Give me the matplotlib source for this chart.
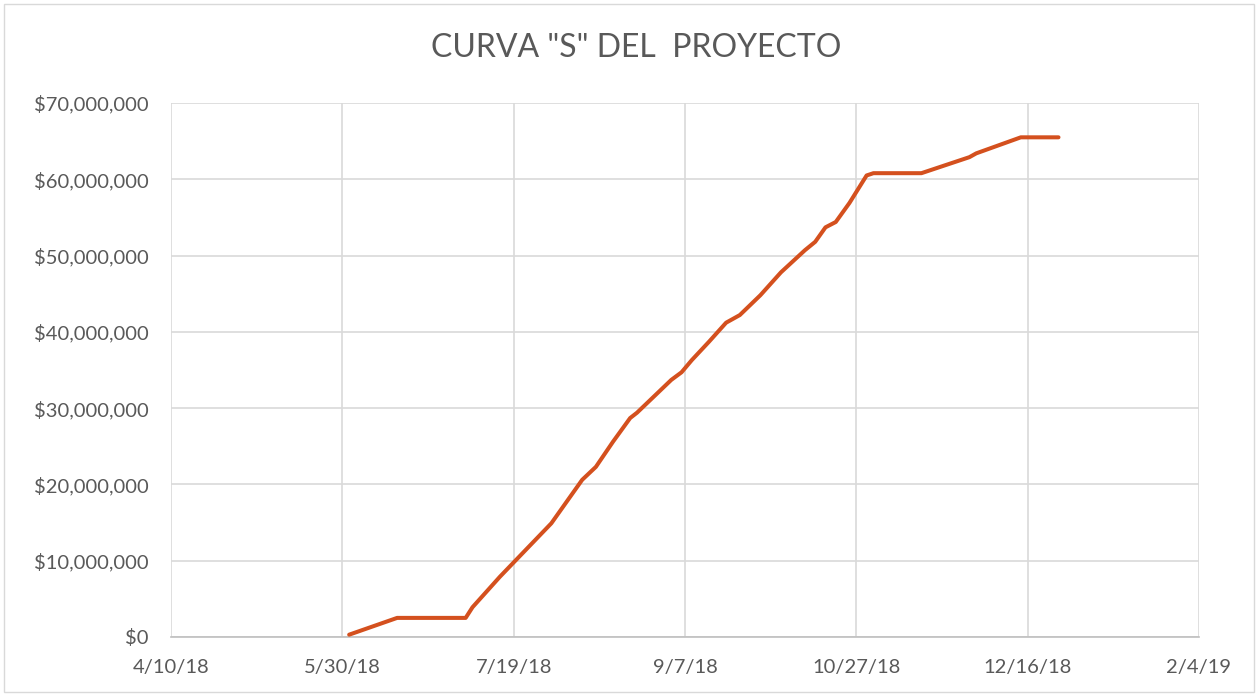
import matplotlib
matplotlib.use("Agg")
import matplotlib.pyplot as plt
import matplotlib.dates as mdates
from matplotlib.patches import Rectangle
from matplotlib.ticker import FuncFormatter
import numpy as np

# ---- data ----
dates = ["2018-06-01", "2018-06-15", "2018-07-05", "2018-07-07", "2018-07-15",
         "2018-07-30", "2018-08-08", "2018-08-12", "2018-08-17", "2018-08-22",
         "2018-08-24", "2018-09-03", "2018-09-06", "2018-09-09", "2018-09-14",
         "2018-09-19", "2018-09-23", "2018-09-29", "2018-10-05", "2018-10-12",
         "2018-10-15", "2018-10-18", "2018-10-21", "2018-10-25", "2018-10-30",
         "2018-11-01", "2018-11-15", "2018-11-29", "2018-12-01", "2018-12-14",
         "2018-12-25"]
values = [0.3, 2.5, 2.5, 3.9, 7.9,
          14.9, 20.6, 22.3, 25.6, 28.7,
          29.4, 33.7, 34.7, 36.3, 38.7,
          41.2, 42.2, 44.8, 47.8, 50.7,
          51.8, 53.7, 54.4, 56.9, 60.5,
          60.8, 60.8, 62.9, 63.4, 65.5,
          65.5]  # millions
tick_dates = ["2018-04-10", "2018-05-30", "2018-07-19", "2018-09-07",
              "2018-10-27", "2018-12-16", "2019-02-04"]
tick_labels = ["4/10/18", "5/30/18", "7/19/18", "9/7/18", "10/27/18", "12/16/18", "2/4/19"]
y_ticks = [0, 10, 20, 30, 40, 50, 60, 70]
title = 'CURVA "S" DEL  PROYECTO'

plt.rcParams['font.family'] = ['Lato', 'DejaVu Sans']

fig = plt.figure(figsize=(12.58, 6.95), dpi=100)
ax = fig.add_axes([0.1359, 0.0835, 0.9531 - 0.1359, 0.8518 - 0.0835])

x = mdates.date2num(np.array(dates, dtype="datetime64[D]"))
y = np.array(values) * 1e6
ax.plot(x, y, color="#D4501E", lw=2.9, solid_capstyle="round", solid_joinstyle="round", zorder=3)

xt = mdates.date2num(np.array(tick_dates, dtype="datetime64[D]"))
ax.set_xlim(xt[0], xt[-1])
ax.set_xticks(xt)
ax.set_xticklabels(tick_labels)
ax.set_ylim(0, 70e6)
ax.set_yticks([v * 1e6 for v in y_ticks])
ax.yaxis.set_major_formatter(FuncFormatter(lambda v, p: "${:,.0f}".format(v)))

ax.grid(True, color="#D9D9D9", lw=1.2, zorder=0)
for s in ["top", "right", "left"]:
    ax.spines[s].set_visible(False)
ax.spines["bottom"].set_color("#BFBFBF")
ax.spines["bottom"].set_linewidth(1.2)
ax.tick_params(length=0, colors="#595959", labelsize=14.5)
ax.tick_params(axis="y", pad=16)
ax.tick_params(axis="x", pad=16)

fig.text(0.506, 0.931, title, ha="center", va="center", fontsize=23,
         color="#595959", fontweight="normal")

fig.patches.append(Rectangle((0.003, 0.004), 0.994, 0.99, transform=fig.transFigure,
                             fill=False, edgecolor="#D9D9D9", lw=1))

fig.savefig("out.png", dpi=100, facecolor="white")
